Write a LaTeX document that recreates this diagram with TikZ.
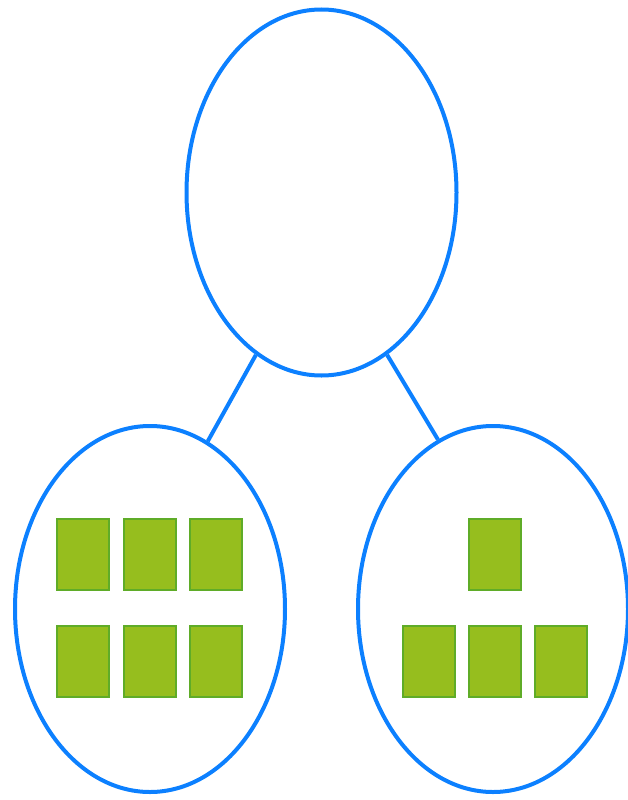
\documentclass[tikz,border=0pt]{standalone}
\usepackage{tikz}
\usetikzlibrary{shapes.geometric}
\definecolor{ringblue}{RGB}{12,128,255}
\definecolor{blockfill}{RGB}{150,190,30}
\definecolor{blockline}{RGB}{95,172,40}
\tikzstyle{ring}=[ellipse,draw=ringblue,line width=4pt,minimum width=270pt,minimum height=366pt,inner sep=0pt]
\tikzstyle{block}=[rectangle,fill=blockfill,draw=blockline,line width=2pt,minimum width=52pt,minimum height=71pt,inner sep=0pt]
\tikzstyle{link}=[draw=ringblue,line width=4pt]

\begin{document}
\begin{tikzpicture}[x=1pt,y=-1pt]
    \useasboundingbox (0,0) rectangle (628,800);
    \foreach \pos/\name in {{(321.5,192.5)/whole}, {(150,609)/left}, {(493,609)/right}}
        \node[ring] (\name) at \pos {};
    \path[link] (whole.248) -- (left.71.5);
    \path[link] (whole.292) -- (right.108.5);
    % six blocks on the left
    \foreach \x/\i in {83/1, 149.5/2, 215.5/3}
        \foreach \y/\j in {554.5/a, 661/b}
            \node[block] (l\j\i) at (\x,\y) {};
    % four blocks on the right
    \node[block] (rtop) at (495,554.5) {};
    \foreach \x/\i in {429/1, 495/2, 561/3}
        \node[block] (rb\i) at (\x,661) {};
\end{tikzpicture}
\end{document}
